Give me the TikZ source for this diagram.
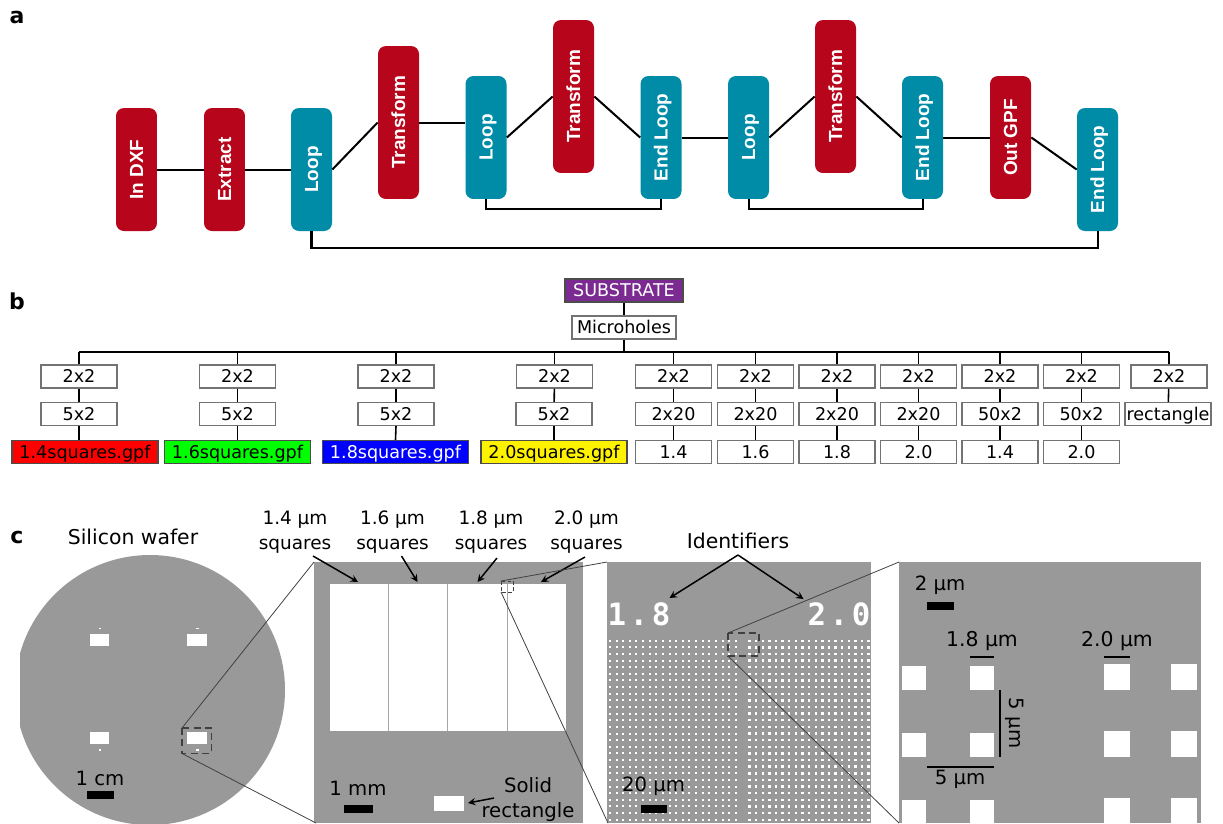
\documentclass[tikz,border=0pt]{standalone}
\usepackage{fontspec}
\setmainfont{DejaVu Sans}
\newfontfamily\pipefont{Liberation Sans}
\newfontfamily\idfont[LetterSpace=12]{DejaVu Sans Mono}
\usetikzlibrary{calc}
\definecolor{pipered}{RGB}{183,6,28}
\definecolor{pipeteal}{RGB}{0,139,166}
\definecolor{subpurple}{RGB}{122,42,144}
\definecolor{wafergray}{RGB}{153,153,153}
\def\pipelabel#1{\rotatebox{90}{\vphantom{T}\smash{#1}}}
\tikzset{
	pipebox/.style={rounded corners=4.5pt,minimum width=0.82cm,inner sep=0,text=white,font=\pipefont\fontsize{10.8pt}{12pt}\bfseries\selectfont},
	redbox/.style={pipebox,fill=pipered},
	tealbox/.style={pipebox,fill=pipeteal},
	shortbox/.style={minimum height=2.46cm},
	tallbox/.style={minimum height=3.06cm},
	treebox/.style={draw=black!55,line width=0.75pt,fill=white,inner sep=0,minimum height=0.46cm,minimum width=1.52cm,text height=9.3pt,text depth=2pt,font=\fontsize{10pt}{12pt}\selectfont},
	filebox/.style={treebox,draw=black!70,minimum width=2.92cm},
	link/.style={line width=1.15pt},
	treelink/.style={line width=0.9pt},
	lbl/.style={inner sep=0,align=center,font=\fontsize{11.2pt}{14.2pt}\selectfont},
	sqlbl/.style={lbl,font=\fontsize{10.5pt}{14.2pt}\selectfont},
	widelbl/.style={lbl,font=\fontsize{11.6pt}{14.2pt}\selectfont},
	panel/.style={inner sep=0,font=\fontsize{12.5pt}{14pt}\bfseries\selectfont},
	graybox/.style={fill=wafergray},
	hole/.style={fill=white},
	bar/.style={fill=black},
	zoomline/.style={line width=0.45pt,draw=black!75},
	dashbox/.style={line width=0.6pt,draw=black!75,dash pattern=on 4pt off 2.5pt},
	callout/.style={line width=0.85pt,-stealth},
	idnum/.style={inner sep=0,text=white,font=\idfont\fontsize{17.5pt}{20pt}\bfseries\selectfont}
}
\begin{document}
\begin{tikzpicture}[x=0.02cm,y=-0.02cm]
	\useasboundingbox (0,0) rectangle (1223,823);
	\clip (0,0) rectangle (1223,823);

	%%%%% a %%%%%
	\node[panel] (panela) at (17,17) {a};

	\node[redbox,shortbox] (dxf) at (136.5,169.5) {\pipelabel{In DXF}};
	\node[redbox,shortbox] (extract) at (224.5,169.5) {\pipelabel{Extract}};
	\node[tealbox,shortbox] (loopa) at (311.5,169.5) {\pipelabel{Loop}};
	\node[redbox,tallbox] (transa) at (398.5,122.5) {\pipelabel{Transform}};
	\node[tealbox,shortbox] (loopb) at (486,137.5) {\pipelabel{Loop}};
	\node[redbox,tallbox] (transb) at (573.5,96.5) {\pipelabel{Transform}};
	\node[tealbox,shortbox] (endb) at (661,137.5) {\pipelabel{End Loop}};
	\node[tealbox,shortbox] (loopc) at (748.5,137.5) {\pipelabel{Loop}};
	\node[redbox,tallbox] (transc) at (835.5,96.5) {\pipelabel{Transform}};
	\node[tealbox,shortbox] (endc) at (922.5,137.5) {\pipelabel{End Loop}};
	\node[redbox,shortbox] (outgpf) at (1010.5,137.5) {\pipelabel{Out GPF}};
	\node[tealbox,shortbox] (enda) at (1097.5,169.5) {\pipelabel{End Loop}};

	\draw[link] (dxf) -- (extract);
	\draw[link] (extract) -- (loopa);
	\draw[link] (loopa.east) -- (transa.west);
	\draw[link] (transa.east) -- (transa.east -| loopb.west);
	\draw[link] (loopb.east) -- (transb.west);
	\draw[link] (transb.east) -- (endb.west);
	\draw[link] (endb) -- (loopc);
	\draw[link] (loopc.east) -- (transc.west);
	\draw[link] (transc.east) -- (endc.west);
	\draw[link] (endc) -- (outgpf);
	\draw[link] (outgpf.east) -- (enda.west);
	\draw[link] (loopb.south) -- ++(0,10) -| (endb.south);
	\draw[link] (loopc.south) -- ++(0,10) -| (endc.south);
	\draw[link] (loopa.south) -- ++(0,17) -| (enda.south);

	%%%%% b %%%%%
	\node[panel] (panelb) at (17,301) {b};

	\node[treebox,fill=subpurple,text=white,draw=black!70,minimum width=2.36cm] (substrate) at (624,290.5) {SUBSTRATE};
	\node[treebox,minimum width=2.08cm] (microholes) at (624,327.5) {Microholes};

	\node[treebox] (ga) at (79,376.5) {2x2};
	\node[treebox] (gb) at (237.5,376.5) {2x2};
	\node[treebox] (gc) at (396,376.5) {2x2};
	\node[treebox] (gd) at (554.5,376.5) {2x2};
	\node[treebox] (ge) at (673.5,376.5) {2x2};
	\node[treebox] (gf) at (755.5,376.5) {2x2};
	\node[treebox] (gg) at (837,376.5) {2x2};
	\node[treebox] (gh) at (918.5,376.5) {2x2};
	\node[treebox] (gi) at (1000,376.5) {2x2};
	\node[treebox] (gj) at (1081.5,376.5) {2x2};
	\node[treebox] (gk) at (1169,376.5) {2x2};

	\node[treebox] (ma) at (79,414) {5x2};
	\node[treebox] (mb) at (237.5,414) {5x2};
	\node[treebox] (mc) at (396,414) {5x2};
	\node[treebox] (md) at (554,414) {5x2};
	\node[treebox] (me) at (673.5,414) {2x20};
	\node[treebox] (mf) at (755.5,414) {2x20};
	\node[treebox] (mg) at (837,414) {2x20};
	\node[treebox] (mh) at (918.5,414) {2x20};
	\node[treebox] (mi) at (1000,414) {50x2};
	\node[treebox] (mj) at (1081.5,414) {50x2};
	\node[treebox,minimum width=1.72cm] (mk) at (1168,414) {rectangle};

	\node[filebox,fill=red] (fa) at (85,452) {1.4squares.gpf};
	\node[filebox,fill=green] (fb) at (237.5,452) {1.6squares.gpf};
	\node[filebox,fill=blue,text=white] (fc) at (395.5,452) {1.8squares.gpf};
	\node[filebox,fill=yellow] (fd) at (554,452) {2.0squares.gpf};
	\node[treebox] (fe) at (673.5,452) {1.4};
	\node[treebox] (ff) at (755.5,452) {1.6};
	\node[treebox] (fg) at (837,452) {1.8};
	\node[treebox] (fh) at (918.5,452) {2.0};
	\node[treebox] (fi) at (1000,452) {1.4};
	\node[treebox] (fj) at (1081.5,452) {2.0};

	\coordinate (busleft) at (79,352);
	\coordinate (busright) at (1169,352);
	\draw[treelink] (substrate) -- (microholes);
	\draw[treelink] (microholes.south) -- (microholes.south |- busleft);
	\draw[treelink] (busleft) -- (busright);
	\foreach \g in {a,b,c,d,e,f,g,h,i,j,k}{
		\draw[treelink] (g\g.north) -- (g\g.north |- busleft);
		\draw[treelink] (g\g) -- (m\g);
	}
	\draw[treelink] (ma.south) -- (ma.south |- fa.north);
	\foreach \g in {b,c,d,e,f,g,h,i,j}{
		\draw[treelink] (m\g.south) -- (f\g.north);
	}

	%%%%% c %%%%%
	\node[panel] (panelc) at (17,537) {c};
	\node[widelbl] (waferlabel) at (133,537) {Silicon wafer};

	\begin{scope}
		\clip (20,540) rectangle (300,823);
		\fill[graybox] (150,690) circle (135);
	\end{scope}
	\fill[hole] (89.5,634) rectangle (109,646);
	\fill[hole] (187,634) rectangle (206.5,646);
	\fill[hole] (89.5,732) rectangle (109,743.5);
	\fill[hole] (187,732) rectangle (206.5,743.5);
	\fill[hole] (98.5,627.5) rectangle (101,629);
	\fill[hole] (196,627.5) rectangle (198.5,629);
	\fill[hole] (98.5,749) rectangle (101,750.5);
	\fill[hole] (196,749) rectangle (198.5,750.5);
	\draw[dashbox] (182,728) rectangle (211.5,753.5);
	\node[lbl] (cmlabel) at (100,778) {1 cm};
	\fill[bar] (86.5,791) rectangle (114,799);

	% second panel
	\fill[graybox] (314,562) rectangle (583,823);
	\fill[hole] (330,584) rectangle (566,731);
	\draw[line width=0.45pt,draw=black!35] (388.5,584) -- (388.5,731);
	\draw[line width=0.45pt,draw=black!35] (447.5,584) -- (447.5,731);
	\draw[line width=0.45pt,draw=black!35] (507.5,584) -- (507.5,731);
	\draw[dashbox,dash pattern=on 2pt off 1.5pt,line width=0.35pt] (501,581) rectangle (513.5,592);
	\node[lbl] (mmlabel) at (358,788) {1 mm};
	\fill[bar] (343.5,804.5) rectangle (373,812.5);
	\fill[hole] (434,796) rectangle (464,811);
	\node[lbl] (solid) at (528,799.5) {Solid\\rectangle};

	\node[sqlbl] (sqa) at (295,532) {1.4 µm\\squares};
	\node[sqlbl] (sqb) at (392.5,532) {1.6 µm\\squares};
	\node[sqlbl] (sqc) at (491,532) {1.8 µm\\squares};
	\node[sqlbl] (sqd) at (586.5,532) {2.0 µm\\squares};

	\coordinate (sqafrom) at (313,556);
	\coordinate (sqato) at (358,582);
	\coordinate (sqbfrom) at (401.5,556);
	\coordinate (sqbto) at (417.5,582);
	\coordinate (sqcfrom) at (497,558);
	\coordinate (sqcto) at (477.5,582);
	\coordinate (sqdfrom) at (585,557);
	\coordinate (sqdto) at (541,582);
	\coordinate (solidfrom) at (494,798);
	\coordinate (solidto) at (468,803);
	\draw[callout] (sqafrom) -- (sqato);
	\draw[callout] (sqbfrom) -- (sqbto);
	\draw[callout] (sqcfrom) -- (sqcto);
	\draw[callout] (sqdfrom) -- (sqdto);
	\draw[callout] (solidfrom) -- (solidto);

	% third panel
	\fill[graybox] (607,562) rectangle (871,823);
	\foreach \r in {0,...,27}{
		\foreach \c in {0,...,19}{
			\fill[hole] ({610+6.62*\c-1},{640.7+6.63*\r-1}) rectangle ++(2,2);
		}
		\foreach \c in {0,...,18}{
			\fill[hole] ({749.5+6.62*\c-1.2},{640.7+6.63*\r-1.2}) rectangle ++(2.4,2.4);
		}
	}
	\node[idnum] (idb) at (639,614) {1.8};
	\node[idnum] (idc) at (839,614) {2.0};
	\draw[dashbox] (728,633) rectangle (759,656);
	\node[lbl] (umtwenty) at (653.5,786) {20 µm};
	\fill[bar] (640.5,804.5) rectangle (667,812.5);

	\node[widelbl] (identifiers) at (738,541) {Identifiers};
	\coordinate (idapex) at (738,555);
	\coordinate (idleft) at (669.5,598);
	\coordinate (idright) at (803.5,599);
	\draw[callout] (idapex) -- (idleft);
	\draw[callout] (idapex) -- (idright);

	% fourth panel
	\fill[graybox] (899,562) rectangle (1201,823);
	\node[lbl] (umtwo) at (940,585) {2 µm};
	\fill[bar] (926.5,602) rectangle (953.5,610);
	\node[widelbl] (umoneeight) at (982,641) {1.8 µm};
	\node[widelbl] (umtwozero) at (1117,641) {2.0 µm};
	\fill[bar] (969.5,656) rectangle (993.5,658);
	\fill[bar] (1103.5,656) rectangle (1130,658);

	\fill[hole] (902,666) rectangle (926,690);
	\fill[hole] (969.5,666) rectangle (993.5,690);
	\fill[hole] (902,733) rectangle (926,757);
	\fill[hole] (969.5,733) rectangle (993.5,757);
	\fill[hole] (902,800) rectangle (926,824);
	\fill[hole] (969.5,800) rectangle (993.5,824);
	\fill[hole] (1103.5,663.5) rectangle (1130,690);
	\fill[hole] (1170.5,663.5) rectangle (1197,690);
	\fill[hole] (1103.5,730.5) rectangle (1130,757);
	\fill[hole] (1170.5,730.5) rectangle (1197,757);
	\fill[hole] (1103.5,797.5) rectangle (1130,824);
	\fill[hole] (1170.5,797.5) rectangle (1197,824);

	\fill[bar] (998.5,690) rectangle (1000.5,757);
	\node[lbl,rotate=-90] (umfivev) at (1015,723) {5 µm};
	\fill[bar] (926.5,766) rectangle (993.5,768);
	\node[lbl] (umfiveh) at (960,779) {5 µm};

	% zoom lines
	\coordinate (waferzt) at (182,728);
	\coordinate (waferzb) at (182,753.5);
	\coordinate (secondzt) at (501,581);
	\coordinate (secondzb) at (501,592);
	\coordinate (thirdzt) at (728,633);
	\coordinate (thirdzb) at (728,656);
	\coordinate (secondtl) at (314,562);
	\coordinate (secondbl) at (316,823);
	\coordinate (thirdtl) at (607,562);
	\coordinate (thirdbl) at (608,823);
	\coordinate (fourthtl) at (899,562);
	\coordinate (fourthbl) at (899,823);
	\draw[zoomline] (waferzt) -- (secondtl);
	\draw[zoomline] (waferzb) -- (secondbl);
	\draw[zoomline] (secondzt) -- (thirdtl);
	\draw[zoomline] (secondzb) -- (thirdbl);
	\draw[zoomline] (thirdzt) -- (fourthtl);
	\draw[zoomline] (thirdzb) -- (fourthbl);
\end{tikzpicture}
\end{document}
